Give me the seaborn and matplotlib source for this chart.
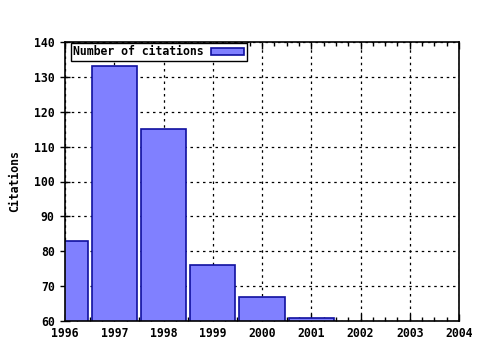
import matplotlib
matplotlib.use("Agg")
import matplotlib.pyplot as plt
import seaborn as sns
import pandas as pd
from matplotlib.ticker import MultipleLocator

years = [1996, 1997, 1998, 1999, 2000, 2001]
citations = [83, 133, 115, 76, 67, 61]
x_ticks = [1996, 1997, 1998, 1999, 2000, 2001, 2002, 2003, 2004]
y_ticks = [60, 70, 80, 90, 100, 110, 120, 130, 140]
series_label = "Number of citations"
y_label = "Citations"

sns.set_style("white")
plt.rcParams["font.family"] = ["DejaVu Sans Mono"]
plt.rcParams["font.weight"] = "bold"
plt.rcParams["text.color"] = "black"
plt.rcParams["axes.labelcolor"] = "black"
plt.rcParams["xtick.color"] = "black"
plt.rcParams["ytick.color"] = "black"

FS = 8.3

df = pd.DataFrame({"year": years, "citations": citations})

fig = plt.figure(figsize=(4.8, 3.5), dpi=100)
ax = fig.add_axes([65 / 480, 1 - 321 / 350, (459 - 65) / 480, (321 - 42) / 350])

sns.barplot(data=df, x="year", y="citations", native_scale=True, width=0.92,
            color="#8080ff", saturation=1, edgecolor="#1010a0", linewidth=1.2,
            label=series_label, ax=ax)

ax.set_xlim(1996, 2004)
ax.set_ylim(60, 140)
ax.set_xticks(x_ticks)
ax.set_xticklabels([str(t) for t in x_ticks])
ax.set_yticks(y_ticks)
ax.set_yticklabels([str(t) for t in y_ticks])
ax.xaxis.set_minor_locator(MultipleLocator(0.25))

ax.grid(True, which="major", color="black", linestyle=(0, (2, 3)), linewidth=0.9)
ax.set_axisbelow(True)

for s in ax.spines.values():
    s.set_color("black")
    s.set_linewidth(1.2)
    s.set_visible(True)

ax.tick_params(axis="x", which="major", direction="in", length=5, width=1,
               top=True, bottom=True, labelsize=FS, pad=4, colors="black")
ax.tick_params(axis="x", which="minor", direction="in", length=3, width=1,
               top=True, bottom=True)
ax.tick_params(axis="y", which="major", direction="inout", length=7, width=1,
               left=True, right=False, labelsize=FS, pad=4, colors="black")

ax.set_xlabel("")
ax.set_ylabel(y_label, fontsize=FS, fontweight="bold", color="black")
ax.yaxis.set_label_coords(-0.112, 0.5)

leg = ax.legend(loc="upper left", bbox_to_anchor=(6 / 394, 1 - 1 / 279),
                borderaxespad=0, markerfirst=False, fancybox=False,
                edgecolor="black", framealpha=1,
                handlelength=2.9, handleheight=0.55, borderpad=0.2,
                handletextpad=0.6, prop={"weight": "bold", "size": FS})
leg.get_frame().set_linewidth(1.0)
for t in leg.get_texts():
    t.set_color("black")

fig.savefig("out.png", dpi=100)
